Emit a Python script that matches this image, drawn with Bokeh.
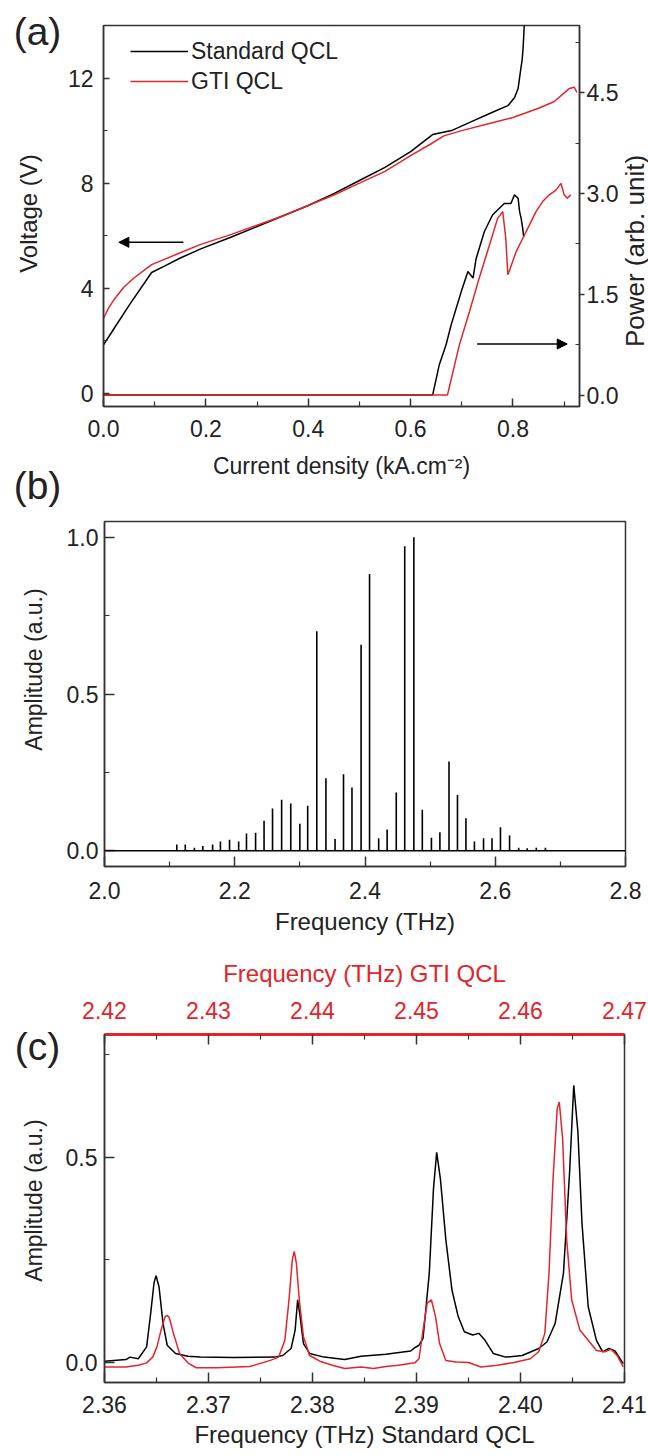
from math import pi
from bokeh.plotting import figure
from bokeh.layouts import column, row
from bokeh.models import (Range1d, LinearAxis, FixedTicker, PrintfTickFormatter,
                          Legend, LegendItem, Arrow, NormalHead, Span)
from bokeh.core.properties import value
from bokeh.embed import file_html
from bokeh.resources import INLINE

# ---------------- data: panel (a) ----------------
std_j = [0, 0.02, 0.05, 0.094, 0.12, 0.15, 0.19, 0.25, 0.30, 0.35, 0.40, 0.45, 0.50,
         0.55, 0.60, 0.643, 0.68, 0.72, 0.76, 0.79, 0.803, 0.81, 0.815, 0.818, 0.82, 0.822]
std_v = [1.85, 2.45, 3.35, 4.6, 4.85, 5.15, 5.5, 5.95, 6.35, 6.75, 7.15, 7.6, 8.1,
         8.6, 9.2, 9.85, 10.0, 10.35, 10.7, 10.95, 11.25, 11.6, 12.3, 12.7, 13.2, 14.0]
gti_j = [0, 0.01, 0.02, 0.04, 0.06, 0.094, 0.15, 0.19, 0.25, 0.30, 0.35, 0.40, 0.45,
         0.50, 0.55, 0.60, 0.64, 0.665, 0.70, 0.75, 0.80, 0.85, 0.88, 0.91, 0.92, 0.925]
gti_v = [2.85, 3.25, 3.55, 4.05, 4.4, 4.9, 5.35, 5.67, 6.05, 6.4, 6.75, 7.15, 7.55,
         8.0, 8.45, 9.05, 9.5, 9.8, 10.0, 10.25, 10.5, 10.85, 11.1, 11.6, 11.65, 11.45]
std_pj = [0, 0.643, 0.656, 0.669, 0.679, 0.699, 0.712, 0.722, 0.728, 0.744, 0.76,
          0.783, 0.796, 0.803, 0.81, 0.813, 0.816, 0.819, 0.821]
std_p = [0, 0, 0.45, 0.74, 1.04, 1.54, 1.84, 1.74, 2.03, 2.43, 2.68,
         2.85, 2.85, 2.98, 2.93, 2.73, 2.63, 2.48, 2.35]
gti_pj = [0, 0.672, 0.695, 0.715, 0.734, 0.754, 0.77, 0.78, 0.786, 0.79, 0.793, 0.806,
          0.819, 0.832, 0.845, 0.858, 0.871, 0.884, 0.894, 0.9, 0.906, 0.913]
gti_p = [0, 0, 0.74, 1.24, 1.74, 2.23, 2.63, 2.73, 2.33, 1.79, 1.85, 2.13,
         2.33, 2.53, 2.73, 2.88, 2.98, 3.05, 3.15, 2.98, 2.93, 2.98]
a_x_ticks = [0.0, 0.2, 0.4, 0.6, 0.8]
a_x_minor = [0.1, 0.3, 0.5, 0.7, 0.9]
a_v_ticks = [0, 4, 8, 12]
a_v_minor = [2, 6, 10]
a_p_ticks = [0.0, 1.5, 3.0, 4.5]
a_p_minor = [0.75, 2.25, 3.75, 5.25]
# arrows (start -> end) in data units
arrow_v = dict(x0=0.156, y0=5.75, x1=0.03, y1=5.75)
arrow_p = dict(x0=0.73, y0=0.76, x1=0.906, y1=0.76)

# ---------------- data: panel (b) ----------------
comb_f = [2.111, 2.124, 2.138, 2.151, 2.166, 2.178, 2.192, 2.206, 2.218, 2.232, 2.245,
          2.258, 2.272, 2.286, 2.300, 2.312, 2.326, 2.340, 2.354, 2.367, 2.380, 2.394,
          2.407, 2.421, 2.434, 2.448, 2.461, 2.475, 2.488, 2.502, 2.515, 2.529, 2.542,
          2.555, 2.568, 2.582, 2.595, 2.608, 2.622, 2.636, 2.649, 2.663, 2.677]
comb_a = [0.02, 0.02, 0.01, 0.015, 0.02, 0.03, 0.035, 0.03, 0.055, 0.058, 0.096,
          0.135, 0.163, 0.151, 0.086, 0.144, 0.70, 0.231, 0.038, 0.244, 0.202, 0.657,
          0.883, 0.04, 0.068, 0.186, 0.971, 1.0, 0.131, 0.042, 0.059, 0.285, 0.178,
          0.104, 0.03, 0.04, 0.04, 0.075, 0.049, 0.01, 0.008, 0.01, 0.01]
b_x_ticks = [2.0, 2.2, 2.4, 2.6, 2.8]
b_x_minor = [2.1, 2.3, 2.5, 2.7]
b_y_ticks = [0.0, 0.5, 1.0]
b_y_minor = [0.25, 0.75]

# ---------------- data: panel (c) ----------------
std_f = [2.3600, 2.36206, 2.36246, 2.36325, 2.36405, 2.36444, 2.36476, 2.36496, 2.36524,
         2.36563, 2.36603, 2.36683, 2.36802, 2.36921, 2.37238, 2.37635, 2.37714, 2.37794,
         2.37833, 2.37857, 2.37881, 2.37913, 2.37972, 2.38111, 2.38310, 2.38468, 2.38706,
         2.38944, 2.38984, 2.39024, 2.39063, 2.39123, 2.39163, 2.39194, 2.39230, 2.39282,
         2.39341, 2.39401, 2.39460, 2.39540, 2.39599, 2.39659, 2.39738, 2.39857, 2.40016,
         2.40175, 2.40254, 2.40333, 2.40413, 2.40472, 2.40512, 2.40552, 2.40591, 2.40651,
         2.40730, 2.40790, 2.40849, 2.40909, 2.40988]
std_a = [0.002, 0.006, 0.012, 0.008, 0.037, 0.119, 0.193, 0.211, 0.184,
         0.094, 0.041, 0.021, 0.014, 0.012, 0.011, 0.012, 0.016, 0.033,
         0.078, 0.152, 0.111, 0.045, 0.021, 0.012, 0.006, 0.014, 0.019,
         0.027, 0.035, 0.041, 0.058, 0.217, 0.422, 0.512, 0.447, 0.299,
         0.176, 0.111, 0.074, 0.066, 0.070, 0.053, 0.021, 0.012, 0.016,
         0.033, 0.049, 0.094, 0.217, 0.463, 0.676, 0.562, 0.340, 0.135,
         0.053, 0.025, 0.033, 0.027, -0.004]
gti_f = [2.42000, 2.42206, 2.42325, 2.42405, 2.42464, 2.42504, 2.42544, 2.42583, 2.42603,
         2.42623, 2.42663, 2.42722, 2.42802, 2.42881, 2.43079, 2.43397, 2.43595, 2.43675,
         2.43734, 2.43774, 2.43806, 2.43825, 2.43845, 2.43873, 2.43913, 2.43972, 2.44071,
         2.44190, 2.44310, 2.44468, 2.44587, 2.44706, 2.44825, 2.44984, 2.45024, 2.45063,
         2.45103, 2.45143, 2.45183, 2.45222, 2.45282, 2.45381, 2.45500, 2.45619, 2.45778,
         2.45937, 2.46095, 2.46175, 2.46234, 2.46274, 2.46313, 2.46353, 2.46373, 2.46405,
         2.46444, 2.46492, 2.46571, 2.46651, 2.46730, 2.46810, 2.46869, 2.46929, 2.46988]
gti_a = [-0.012, -0.012, -0.008, -0.002, 0.012, 0.037, 0.078, 0.111, 0.114,
         0.108, 0.070, 0.021, -0.002, -0.014, -0.014, -0.011, 0.004, 0.012,
         0.053, 0.152, 0.25, 0.270, 0.241, 0.152, 0.062, 0.016, 0.002,
         -0.008, -0.016, -0.012, -0.016, -0.011, -0.008, -0.002, 0.008, 0.078,
         0.144, 0.152, 0.111, 0.045, 0.004, 0.000, -0.001, -0.012, -0.008,
         -0.001, 0.008, 0.025, 0.070, 0.217, 0.447, 0.619, 0.635, 0.545,
         0.299, 0.152, 0.078, 0.053, 0.028, 0.025, 0.031, 0.016, -0.012]
c_x_ticks = [2.36, 2.37, 2.38, 2.39, 2.40, 2.41]
c_x_minor = [2.365, 2.375, 2.385, 2.395, 2.405]
c_top_ticks = [2.42, 2.43, 2.44, 2.45, 2.46, 2.47]
c_top_minor = [2.425, 2.435, 2.445, 2.455, 2.465]
c_y_ticks = [0.0, 0.5]
c_y_minor = [0.25, 0.75]

# ---------------- text placed in side strips (label texts) ----------------
panel_tags = ["(a)", "(b)", "(c)"]
y_titles = ["Voltage (V)", "Amplitude (a.u.)", "Amplitude (a.u.)"]
power_title = "Power (arb. unit)"

# ---------------- styling ----------------
FONT = "Liberation Sans"
TXT = "#222222"
AX = "#333333"
RED = "#e3242b"
TICK_SIZE = "23px"
TITLE_SIZE = "24px"
STRIP_W = 62
TOTAL_H = 1446


def style_axis(ax, ticks, minor, fmt, tin=8, tout=0, min_in=5, min_out=0,
               standoff=8, title_standoff=8, color=TXT):
    ax.ticker = FixedTicker(ticks=ticks, minor_ticks=minor)
    ax.formatter = PrintfTickFormatter(format=fmt)
    ax.major_label_text_font = FONT
    ax.major_label_text_font_size = TICK_SIZE
    ax.major_label_text_color = color
    ax.axis_label_text_font = FONT
    ax.axis_label_text_font_size = TITLE_SIZE
    ax.axis_label_text_font_style = "normal"
    ax.axis_label_text_color = color
    ax.axis_line_color = AX
    ax.axis_line_width = 1.5
    ax.major_tick_line_color = AX
    ax.minor_tick_line_color = AX
    ax.major_tick_line_width = 1.5
    ax.minor_tick_line_width = 1.2
    ax.major_tick_in = tin
    ax.major_tick_out = tout
    ax.minor_tick_in = min_in
    ax.minor_tick_out = min_out
    ax.major_label_standoff = standoff
    ax.axis_label_standoff = title_standoff


def base_fig(x_range, y_range, fw, fh, left, right, top, bottom):
    p = figure(output_backend="svg", toolbar_location=None,
               frame_width=fw, frame_height=fh,
               min_border_left=left, min_border_right=right,
               min_border_top=top, min_border_bottom=bottom,
               x_range=x_range, y_range=y_range)
    p.grid.visible = False
    p.outline_line_color = AX
    p.outline_line_width = 1.5
    return p


def strip(w, h):
    s = figure(output_backend="svg", toolbar_location=None, width=w, height=h,
               x_range=Range1d(0, w), y_range=Range1d(h, 0),
               x_axis_location=None, y_axis_location=None,
               min_border_left=0, min_border_right=0,
               min_border_top=0, min_border_bottom=0)
    s.outline_line_color = None
    s.grid.visible = False
    return s


def put_text(s, x, y, text, size, angle=0.0):
    s.text(x=[x], y=[y], text=[text], angle=angle, text_font=value(FONT),
           text_font_size=size, text_color=TXT, text_align="center",
           text_baseline="middle")


# ---------------- panel (a) ----------------
pa = base_fig(Range1d(0, 0.93), Range1d(-0.5, 14), 476, 381, 41, 39, 25, 73)
pa.extra_y_ranges = {"power": Range1d(-0.17, 5.5)}

r_std_v = pa.line(std_j, std_v, line_color="black", line_width=1.5)
r_gti_v = pa.line(gti_j, gti_v, line_color=RED, line_width=1.5)
pa.line(std_pj, std_p, line_color="black", line_width=1.5, y_range_name="power")
pa.line(gti_pj, gti_p, line_color=RED, line_width=1.5, y_range_name="power")

style_axis(pa.xaxis[0], a_x_ticks, a_x_minor, "%.1f", tin=8, min_in=5,
           standoff=13, title_standoff=13)
pa.xaxis[0].axis_label = "Current density (kA.cm\u207b\u00b2)"
pa.xaxis[0].axis_label_text_font_size = "23px"
style_axis(pa.yaxis[0], a_v_ticks, a_v_minor, "%d", tin=6, min_in=4, standoff=10)
ax_p = LinearAxis(y_range_name="power")
style_axis(ax_p, a_p_ticks, a_p_minor, "%.1f", tin=0, tout=5, min_in=4, standoff=2)
pa.add_layout(ax_p, "right")

pa.add_layout(Arrow(end=NormalHead(size=10, fill_color="black", line_color="black"),
                    x_start=arrow_v["x0"], y_start=arrow_v["y0"],
                    x_end=arrow_v["x1"], y_end=arrow_v["y1"],
                    line_color="black", line_width=1.5))
pa.add_layout(Arrow(end=NormalHead(size=10, fill_color="black", line_color="black"),
                    x_start=arrow_p["x0"], y_start=arrow_p["y0"],
                    x_end=arrow_p["x1"], y_end=arrow_p["y1"],
                    line_color="black", line_width=1.5, y_range_name="power"))

leg = Legend(items=[LegendItem(label="Standard QCL", renderers=[r_std_v]),
                    LegendItem(label="GTI QCL", renderers=[r_gti_v])],
             location=(27, 310), margin=0, padding=0, spacing=0,
             glyph_width=58, glyph_height=30, label_height=30, label_standoff=3,
             label_text_font=FONT, label_text_font_size="23px", label_text_color=TXT,
             border_line_alpha=0, background_fill_alpha=0)
pa.add_layout(leg)

# right strip with the power-axis title
rs = strip(30, 479)
put_text(rs, 13, 285, power_title, "26px", angle=pi / 2)

# ---------------- panel (b) ----------------
pb = base_fig(Range1d(2.0, 2.8), Range1d(-0.05, 1.05), 521, 345, 39, 26, 40, 73)
pb.add_layout(Span(location=0, dimension="width", line_color="black", line_width=1.5))
pb.segment(x0=comb_f, y0=[0] * len(comb_f), x1=comb_f, y1=comb_a,
           line_color="black", line_width=1.6)
style_axis(pb.xaxis[0], b_x_ticks, b_x_minor, "%.1f", tin=10, min_in=5,
           standoff=15, title_standoff=6)
pb.xaxis[0].axis_label = "Frequency (THz)"
style_axis(pb.yaxis[0], b_y_ticks, b_y_minor, "%.1f", tin=10, min_in=5, standoff=6)

# ---------------- panel (c) ----------------
pc = base_fig(Range1d(2.36, 2.41), Range1d(-0.05, 0.8), 520, 348, 40, 26, 95, 65)
pc.extra_x_ranges = {"gti": Range1d(2.42, 2.47)}
pc.line(std_f, std_a, line_color="black", line_width=1.5)
pc.line(gti_f, gti_a, line_color=RED, line_width=1.5, x_range_name="gti")
style_axis(pc.xaxis[0], c_x_ticks, c_x_minor, "%.2f", tin=10, min_in=5,
           standoff=13, title_standoff=5)
pc.xaxis[0].axis_label = "Frequency (THz) Standard QCL"
style_axis(pc.yaxis[0], c_y_ticks, c_y_minor, "%.1f", tin=10, min_in=5, standoff=7)
ax_top = LinearAxis(x_range_name="gti")
style_axis(ax_top, c_top_ticks, c_top_minor, "%.2f", tin=10, min_in=5,
           standoff=16, title_standoff=12, color=RED)
ax_top.axis_label = "Frequency (THz) GTI QCL"
ax_top.axis_line_color = RED
ax_top.axis_line_width = 3
pc.add_layout(ax_top, "above")

# ---------------- left strip: panel tags and y-axis titles ----------------
ls = strip(STRIP_W, TOTAL_H)
put_text(ls, 37, 31, panel_tags[0], "39px")
put_text(ls, 37, 485, panel_tags[1], "39px")
put_text(ls, 37, 1046, panel_tags[2], "39px")
put_text(ls, 28, 213, y_titles[0], "24px", angle=pi / 2)
put_text(ls, 33, 669, y_titles[1], "23px", angle=pi / 2)
put_text(ls, 33, 1200, y_titles[2], "23px", angle=pi / 2)

layout = row(ls, column(row(pa, rs), pb, pc))
open("out.html", "w").write(file_html(layout, INLINE))
